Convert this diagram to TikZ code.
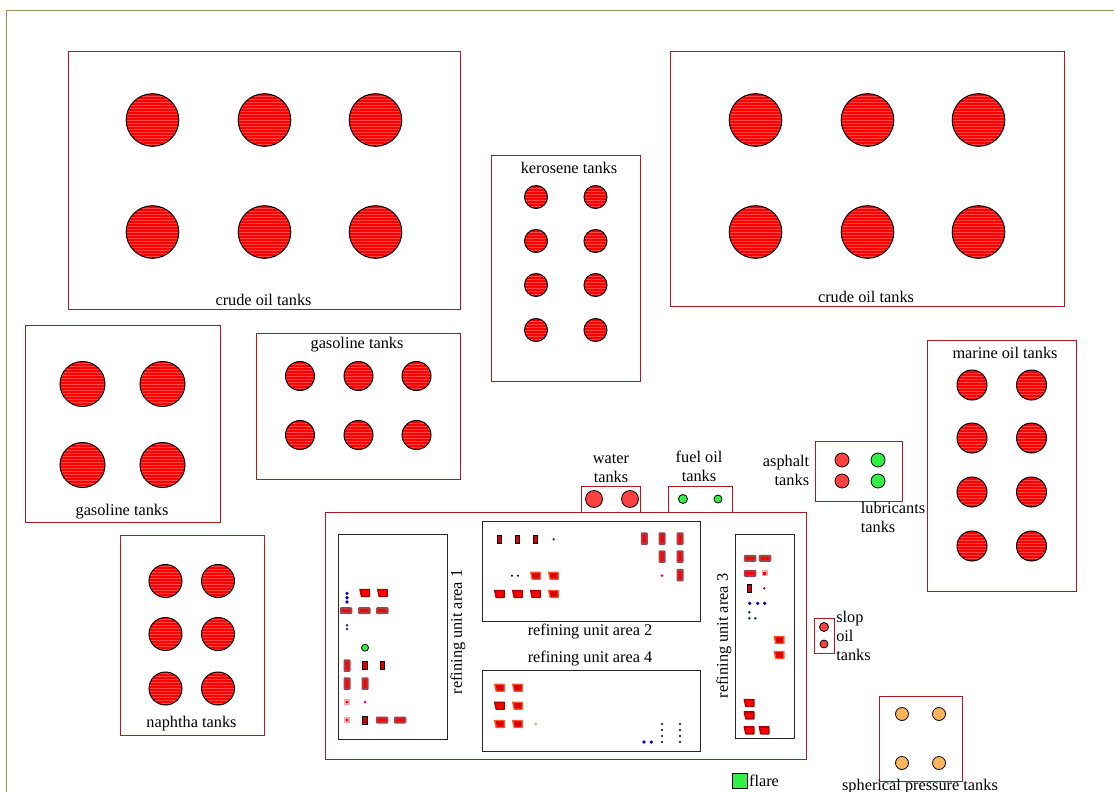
\documentclass[tikz,border=0pt]{standalone}
\usepackage{fontspec}
\setmainfont{Liberation Serif}
\definecolor{framecol}{RGB}{150,150,95}
\definecolor{boxred}{RGB}{175,25,35}
\definecolor{stripe}{RGB}{255,70,70}
\definecolor{shade1}{RGB}{165,65,75}
\definecolor{orng}{RGB}{255,85,40}
\definecolor{tgreen}{RGB}{50,240,70}
\definecolor{sph}{RGB}{250,180,90}
\definecolor{navy2}{RGB}{35,45,110}
\tikzset{
  x=1pt,y=-1pt,
  lbl/.style={font=\fontsize{16.3}{19}\selectfont,inner sep=0pt,align=center},
  zone/.style={draw=boxred,line width=1pt,fill=none},
  area/.style={draw=black!85,line width=1pt,fill=none},
  tank/.style={circle,draw=black,line width=1pt,fill=red,inner sep=0pt,minimum size=2*#1 pt,
    path picture={\foreach \k in {-9,...,9}{\draw[stripe,line width=.7pt]
      ([yshift=\k*3pt]path picture bounding box.west) -- ([yshift=\k*3pt]path picture bounding box.east);}}},
  plain/.style n args={2}{circle,draw=black,line width=.8pt,fill=#1,inner sep=0pt,minimum size=2*#2 pt},
  hunit/.style={rectangle,fill=red,draw=shade1,line width=2pt,inner sep=0pt,minimum width=10.5pt,minimum height=5pt,rounded corners=.6pt},
  vunit/.style={rectangle,fill=red,draw=shade1,line width=2pt,inner sep=0pt,minimum width=5pt,minimum height=10.5pt,rounded corners=.4pt},
  bunit/.style={rectangle,fill=red!85!black,draw=black,line width=1pt,inner sep=0pt,minimum width=4.5pt,minimum height=8pt},
  sunit/.style={rectangle,fill=red,draw=red!35!white,line width=1.8pt,inner sep=0pt,minimum size=4.5pt},
  tshape/.style={fill=red,draw=red!65!black,line width=1.4pt,line join=round},
  oshape/.style={fill=red!88!black,draw=orng,line width=1.4pt,line join=round},
  dot/.style n args={2}{circle,fill=#1,inner sep=0pt,minimum size=#2 pt},
}
\begin{document}
\begin{tikzpicture}
\useasboundingbox (0,0) rectangle (1114,792);
\clip (0,0) rectangle (1114,792);
\draw[framecol,line width=1pt] (6.5,800) -- (6.5,10.5) -- (1120,10.5);

% zones
\node[zone,minimum width=392.6pt,minimum height=257pt,inner sep=0pt] (z1) at (264.5,180.5) {};
\node[zone,minimum width=394pt,minimum height=254pt,inner sep=0pt] (z2) at (867,179) {};
\node[zone,minimum width=149pt,minimum height=226pt,inner sep=0pt] (z3) at (565.5,268) {};
\node[zone,minimum width=195.6pt,minimum height=197pt,inner sep=0pt] (z4) at (123,424.3) {};
\node[zone,minimum width=204.6pt,minimum height=146pt,inner sep=0pt] (z5) at (358.5,406) {};
\node[zone,minimum width=144.6pt,minimum height=200pt,inner sep=0pt] (z6) at (192.5,635) {};
\node[zone,minimum width=149.6pt,minimum height=251pt,inner sep=0pt] (z7) at (1002,466.2) {};
\node[zone,minimum width=87pt,minimum height=60pt,inner sep=0pt] (z8) at (858.5,471) {};
\node[zone,minimum width=59.6pt,minimum height=26pt,inner sep=0pt] (z9) at (611,499) {};
\node[zone,minimum width=64pt,minimum height=26pt,inner sep=0pt] (z10) at (700,499) {};
\node[zone,minimum width=481pt,minimum height=247pt,inner sep=0pt,fill=white] (z11) at (565.5,635.5) {};
\node[zone,minimum width=20pt,minimum height=35pt,inner sep=0pt] (z12) at (824,635.5) {};
\node[zone,minimum width=83.6pt,minimum height=85pt,inner sep=0pt] (z13) at (921,738.5) {};

% refining areas
\node[area,minimum width=109pt,minimum height=205pt,inner sep=0pt] (a1) at (392.5,636.5) {};
\node[area,minimum width=218pt,minimum height=100pt,inner sep=0pt] (a2) at (591,571) {};
\node[area,minimum width=218pt,minimum height=81pt,inner sep=0pt] (a4) at (591,710.5) {};
\node[area,minimum width=59pt,minimum height=204pt,inner sep=0pt] (a3) at (764.5,636) {};

% tanks
\foreach \x/\n in {152.5/a,264.5/b,375.5/c}\foreach \y/\m in {120/a,232/b}
  \node[tank=26.3] (ca\n\m) at (\x,\y) {};
\foreach \x/\n in {755.5/a,867.5/b,978.5/c}\foreach \y/\m in {120/a,232/b}
  \node[tank=26.3] (cb\n\m) at (\x,\y) {};
\foreach \x/\n in {536/a,595.5/b}\foreach \y/\m in {197/a,241/b,285/c,330/d}
  \node[tank=11.5] (ke\n\m) at (\x,\y) {};
\foreach \x/\n in {82.5/a,162.5/b}\foreach \y/\m in {384/a,465/b}
  \node[tank=22.5] (ga\n\m) at (\x,\y) {};
\foreach \x/\n in {300/a,358.5/b,416.5/c}\foreach \y/\m in {376/a,435/b}
  \node[tank=14.5] (gb\n\m) at (\x,\y) {};
\foreach \x/\n in {165.5/a,218/b}\foreach \y/\m in {581/a,634/b,688.5/c}
  \node[tank=16.5] (na\n\m) at (\x,\y) {};
\foreach \x/\n in {972/a,1031.5/b}\foreach \y/\m in {385/a,438/b,492/c,546/d}
  \node[tank=15] (ma\n\m) at (\x,\y) {};

\node[plain={red!75!white}{7}] (as1) at (842,460) {};
\node[plain={red!75!white}{7}] (as2) at (842,481) {};
\node[plain={tgreen}{7}] (lu1) at (878,460) {};
\node[plain={tgreen}{7}] (lu2) at (878,481) {};
\node[plain={red!75!white}{8.5}] (wa1) at (594,499) {};
\node[plain={red!75!white}{8.5}] (wa2) at (630,499) {};
\node[plain={tgreen}{4.5}] (fu1) at (683,499) {};
\node[plain={tgreen}{4}] (fu2) at (718,499) {};
\node[plain={red!75!white}{4.5}] (sl1) at (824,627) {};
\node[plain={red!75!white}{4}] (sl2) at (824,644) {};
\foreach \x/\n in {902/a,939/b}\foreach \y/\m in {714/a,763/b}
  \node[plain={sph}{6.5}] (sp\n\m) at (\x,\y) {};
\node[rectangle,draw=black,line width=.8pt,fill=tgreen,inner sep=0pt,minimum size=15pt] (fl) at (739.5,781) {};

% process units
\foreach \p/\x/\y in {1/346/610.7,2/364.3/610.7,3/382.3/610.7,4/382/720,5/400/720,6/750/558.3,7/765/558.3,8/750/573.3}
  \node[hunit] (h\p) at (\x,\y) {};
\foreach \p/\x/\y in {1/347/665.7,2/347/683.7,3/365/683.7,4/644.3/538.7,5/662/538.7,6/680/538.7,7/662/556.7,8/680/556.7,9/680/575}
  \node[vunit] (v\p) at (\x,\y) {};
\foreach \p/\x/\y in {1/365/665.7,2/382.7/665.7,3/365/720,4/499.7/539.3,5/517.7/539.3,6/535.7/539.3,7/749.7/588.3}
  \node[bunit] (b\p) at (\x,\y) {};
\foreach \p/\x/\y in {1/347/702,2/347/720,3/764.7/573.3}
  \node[sunit] (s\p) at (\x,\y) {};
\foreach \x/\y in {365/593,382.7/593,499.7/594,517.7/594,535.7/594,749.3/703,749.3/715.3,749.3/730.3,764.3/730.3,499.7/705.7}
  \draw[tshape,shift={(\x,\y)}] (-5,-3.5) -- (4.5,-3.5) -- (4.5,3.5) -- (-3.5,3.5) -- cycle;
\foreach \x/\y in {535.7/575.7,553.7/575.7,553.7/594,499.7/687.7,517.7/687.7,517.7/705.7,499.7/724,517.7/724,779.3/640,779.3/655}
  \draw[oshape,shift={(\x,\y)}] (-5,-3.5) -- (4.5,-3.5) -- (4.5,3.5) -- (-3.5,3.5) -- cycle;
\node[plain={tgreen}{3.5}] (gd) at (365,647.7) {};

% small dots
\foreach \p/\x/\y in {1/347/593.3,2/347/597.7,3/347/602,4/644/742,5/651.3/742,6/749.7/603.3,7/757.7/603.3,8/764.7/603.3}
  \node[dot={blue!85!black}{3.6}] (db\p) at (\x,\y) {};
\foreach \p/\x/\y in {1/347/625.3,2/347/629,3/680/724,4/680/730,5/680/736,6/680/742,7/749.3/612.3,8/749.3/618.3,9/755.3/618.3}
  \node[dot={navy2}{2.8}] (dn\p) at (\x,\y) {};
\foreach \p/\x/\y in {1/512/575.7,2/518/575.7,3/662/724,4/662/730,5/662/736,6/662/742}
  \node[dot={black}{2.2}] (dk\p) at (\x,\y) {};
\foreach \p/\x/\y in {1/365/702,2/662/575.7}
  \node[dot={magenta}{3}] (dm\p) at (\x,\y) {};
\node[dot={red!50!black}{2.6}] (dr1) at (553.7,539.3) {};
\node[dot={red!70!black}{2.6}] (dr2) at (764.3,588.3) {};
\node[dot={sph}{3.2}] (dy) at (535.7,724) {};

% labels
\node[lbl] (l1) at (263.5,300) {crude oil tanks};
\node[lbl] (l2) at (866,297) {crude oil tanks};
\node[lbl] (l3) at (569,168) {kerosene tanks};
\node[lbl] (l4) at (122,511.5) {gasoline tanks};
\node[lbl] (l5) at (357,344.5) {gasoline tanks};
\node[lbl] (l6) at (191.5,723.5) {naphtha tanks};
\node[lbl] (l7) at (1005,353) {marine oil tanks};
\node[lbl] (l8) at (611,468) {water\\tanks};
\node[lbl] (l9) at (699,466.5) {fuel oil\\tanks};
\node[lbl,align=right] (l10) at (786,470) {asphalt\\tanks};
\node[lbl,align=left] (l11) at (893,517.5) {lubricants\\tanks};
\node[lbl,align=left] (l12) at (853.5,635.5) {slop\\oil\\tanks};
\node[lbl] (l13) at (920,787) {spherical pressure tanks};
\node[lbl] (l14) at (764,781) {flare};
\node[lbl,rotate=90] (l15) at (458,632) {refining unit area 1};
\node[lbl] (l16) at (590,632) {refining unit area 2};
\node[lbl,rotate=90] (l17) at (724,636) {refining unit area 3};
\node[lbl] (l18) at (590,659) {refining unit area 4};
\end{tikzpicture}
\end{document}
